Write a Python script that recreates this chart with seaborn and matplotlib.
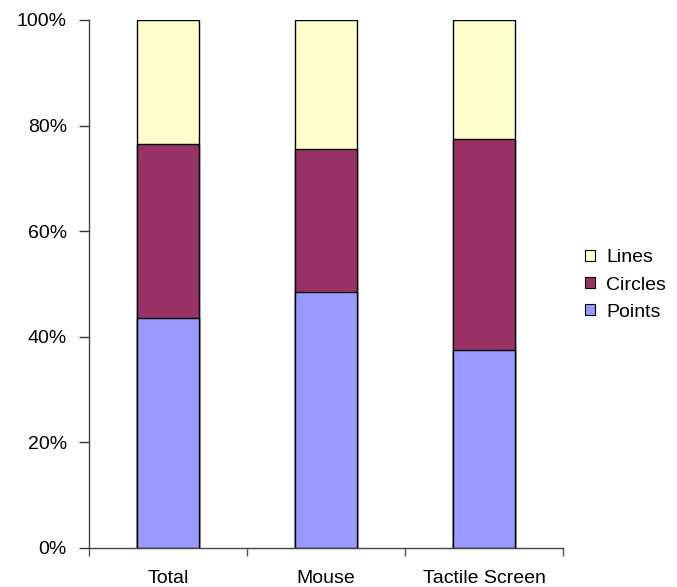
import matplotlib
matplotlib.use("Agg")
import matplotlib.pyplot as plt
from matplotlib.patches import Patch
from matplotlib.ticker import FixedLocator, PercentFormatter
import numpy as np
import pandas as pd
import seaborn as sns

categories = ["Total", "Mouse", "Tactile Screen"]
points = [43.6, 48.4, 37.5]
circles = [32.9, 27.2, 39.9]
lines = [23.5, 24.4, 22.6]

series_colors = {"Points": "#9999FF", "Circles": "#993366", "Lines": "#FFFFCC"}

sns.set_style("white")
plt.rcParams["font.family"] = ["Liberation Sans", "DejaVu Sans"]
plt.rcParams["text.color"] = "black"
plt.rcParams["xtick.color"] = "black"
plt.rcParams["ytick.color"] = "black"

df = pd.DataFrame({"category": categories, "Points": points,
                   "Circles": circles, "Lines": lines})
df["Points_top"] = df["Points"]
df["Circles_top"] = df["Points"] + df["Circles"]
df["Lines_top"] = df["Circles_top"] + df["Lines"]

fig = plt.figure(figsize=(6.77, 5.87), dpi=100)
ax = fig.add_axes([89 / 677, 1 - 548 / 587, (563 - 89) / 677, (548 - 20) / 587])

# stacked bars: draw cumulative totals from the top segment down
for name in ["Lines", "Circles", "Points"]:
    sns.barplot(data=df, x="category", y=f"{name}_top", color=series_colors[name],
                width=0.39, edgecolor="black", linewidth=1.0, saturation=1,
                ax=ax, zorder=2)

ax.set_xlim(-0.5, 2.5)
ax.set_ylim(0, 100)
ax.set_xlabel("")
ax.set_ylabel("")
ax.yaxis.set_major_locator(FixedLocator([0, 20, 40, 60, 80, 100]))
ax.yaxis.set_major_formatter(PercentFormatter(decimals=0))

FS = 14
# category labels without ticks, tick marks at category boundaries
ax.tick_params(axis="x", which="major", length=0, pad=16, labelsize=FS,
               labelcolor="black")
ax.xaxis.set_minor_locator(FixedLocator([-0.5, 0.5, 1.5, 2.5]))
ax.tick_params(axis="x", which="minor", length=6, width=1, color="#555555",
               direction="out", bottom=True)
ax.tick_params(axis="y", length=7, width=1, color="#333333", direction="out",
               left=True, labelsize=FS, pad=9, labelcolor="black")

for side in ["top", "right"]:
    ax.spines[side].set_visible(False)
for side in ["left", "bottom"]:
    ax.spines[side].set_color("#444444")
    ax.spines[side].set_linewidth(1.0)
ax.grid(False)

handles = [Patch(facecolor=series_colors[n], edgecolor="black", linewidth=0.8, label=n)
           for n in ["Lines", "Circles", "Points"]]
fig.legend(handles=handles, loc="center left", bbox_to_anchor=(585 / 677, 1 - 285 / 587),
           frameon=False, fontsize=FS, handlelength=0.5, handleheight=0.5,
           handletextpad=0.6, labelspacing=0.52, borderaxespad=0, borderpad=0)

fig.savefig("out.png", dpi=100)
